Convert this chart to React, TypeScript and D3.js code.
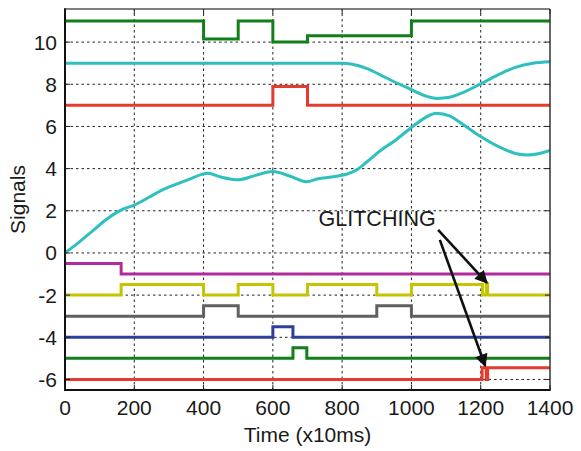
import React from "react";
import * as d3 from "d3";

// ---------- data ----------
const timeTicks = [0, 200, 400, 600, 800, 1000, 1200, 1400];
const signalTicks = [-6, -4, -2, 0, 2, 4, 6, 8, 10];

// digital signals: [time, level] change points (step-after)
const greenTop: [number, number][] = [[0, 11], [400, 10.15], [500, 11], [600, 10], [700, 10.3], [1000, 11], [1400, 11]];
const redTop: [number, number][] = [[0, 7], [600, 7.9], [700, 7], [1400, 7]];
const magenta: [number, number][] = [[0, -0.5], [162, -1], [1400, -1]];
const yellow: [number, number][] = [[0, -2], [162, -1.5], [400, -2], [500, -1.5], [600, -2], [700, -1.5], [900, -2], [1000, -1.5], [1205, -2], [1216, -1.45], [1220, -2], [1400, -2]];
const grey: [number, number][] = [[0, -3], [400, -2.5], [500, -3], [900, -2.5], [1000, -3], [1400, -3]];
const blue: [number, number][] = [[0, -4], [600, -3.5], [658, -4], [1400, -4]];
const greenLow: [number, number][] = [[0, -5], [658, -4.5], [698, -5], [1400, -5]];
const redLow: [number, number][] = [[0, -6], [1204, -5.45], [1216, -6], [1220, -5.45], [1400, -5.45]];

// analog signals
const cyanTop: [number, number][] = [[0, 9], [400, 9], [800, 9], [830, 8.95], [870, 8.75], [910, 8.45], [950, 8.12], [1000, 7.75], [1040, 7.45], [1075, 7.33], [1110, 7.38], [1150, 7.62], [1200, 8.02], [1250, 8.45], [1300, 8.8], [1350, 9.0], [1400, 9.07]];
const cyanLow: [number, number][] = [[0, 0], [40, 0.5], [80, 1.05], [120, 1.6], [160, 2.02], [200, 2.27], [240, 2.62], [280, 2.98], [320, 3.25], [360, 3.5], [400, 3.75], [412, 3.78], [450, 3.6], [500, 3.47], [550, 3.68], [600, 3.86], [650, 3.64], [698, 3.38], [730, 3.52], [770, 3.6], [810, 3.72], [840, 3.92], [870, 4.3], [910, 4.85], [950, 5.3], [1000, 5.95], [1040, 6.42], [1072, 6.63], [1110, 6.5], [1150, 6.08], [1200, 5.52], [1250, 5.05], [1300, 4.72], [1335, 4.65], [1370, 4.72], [1400, 4.86]];

// annotation: text position and arrows (tail -> tip) in data coords
const glitchLabel = "GLITCHING";
const glitchLabelPos: [number, number] = [732, 1.3];
const arrows: [number, number, number, number][] = [
  [1077, 1.1, 1218, -1.42],
  [1082, 0.62, 1213, -5.36],
];

const digitalSeries = [
  { data: greenTop, color: "#11801a" },
  { data: redTop, color: "#e53a2e" },
  { data: magenta, color: "#b02aa0" },
  { data: yellow, color: "#c4c400" },
  { data: grey, color: "#606060" },
  { data: blue, color: "#2d3f9c" },
  { data: greenLow, color: "#11801a" },
  { data: redLow, color: "#e53a2e" },
];
const analogSeries = [
  { data: cyanTop, color: "#2ebfbf" },
  { data: cyanLow, color: "#2ebfbf" },
];

export default function App() {
  const W = 581, H = 451;
  const m = { left: 65, right: 31, top: 9, bottom: 61 };
  const x = d3.scaleLinear().domain([0, 1400]).range([m.left, W - m.right]);
  const y = d3.scaleLinear().domain([-6.5, 11.57]).range([H - m.bottom, m.top]);
  const stepLine = d3.line<[number, number]>().x(d => x(d[0])).y(d => y(d[1])).curve(d3.curveStepAfter);
  const smoothLine = d3.line<[number, number]>().x(d => x(d[0])).y(d => y(d[1])).curve(d3.curveMonotoneX);
  const font = "'Liberation Sans', Arial, Helvetica, sans-serif";
  const x0 = m.left, x1 = W - m.right, y0 = H - m.bottom, y1 = m.top;

  return (
    <svg width={W} height={H} style={{ position: "absolute", left: 0, top: 0, background: "#fff" }} fontFamily={font}>
      <defs>
        <clipPath id="plot"><rect x={x0} y={y1} width={x1 - x0} height={y0 - y1} /></clipPath>
        <marker id="ah" viewBox="0 0 10 10" refX="9" refY="5" markerWidth="5.5" markerHeight="5" markerUnits="strokeWidth" orient="auto">
          <path d="M0,0 L10,5 L0,10 Z" fill="#111" />
        </marker>
      </defs>
      <rect x={0} y={0} width={W} height={H} fill="#fff" />
      {/* grid */}
      <g stroke="#222" strokeWidth={1} strokeDasharray="2.5,3">
        {timeTicks.filter(t => t > 0 && t < 1400).map(t => (
          <line key={"gx" + t} x1={x(t)} x2={x(t)} y1={y0} y2={y1} />
        ))}
        {signalTicks.map(v => (
          <line key={"gy" + v} x1={x0} x2={x1} y1={y(v)} y2={y(v)} />
        ))}
      </g>
      {/* signals */}
      <g clipPath="url(#plot)" fill="none" strokeWidth={3} strokeLinejoin="miter">
        {analogSeries.map((s, i) => (
          <path key={"a" + i} d={smoothLine(s.data) || ""} stroke={s.color} />
        ))}
        {digitalSeries.map((s, i) => (
          <path key={"d" + i} d={stepLine(s.data) || ""} stroke={s.color} />
        ))}
      </g>
      {/* box */}
      <line x1={x0} x2={x1} y1={y1} y2={y1} stroke="#555" strokeWidth={1.5} />
      <line x1={x1} x2={x1} y1={y1} y2={y0} stroke="#333" strokeWidth={1.5} />
      <line x1={x0} x2={x0} y1={y1 - 0.7} y2={y0 + 1} stroke="#111" strokeWidth={2} />
      <line x1={x0 - 1} x2={x1 + 0.7} y1={y0} y2={y0} stroke="#111" strokeWidth={2} />
      {/* ticks */}
      <g stroke="#222" strokeWidth={1}>
        {timeTicks.map(t => (
          <g key={"tx" + t}>
            <line x1={x(t)} x2={x(t)} y1={y0} y2={y0 - 5} />
            <line x1={x(t)} x2={x(t)} y1={y1} y2={y1 + 5} />
          </g>
        ))}
        {signalTicks.map(v => (
          <g key={"ty" + v}>
            <line x1={x0} x2={x0 + 5} y1={y(v)} y2={y(v)} />
            <line x1={x1} x2={x1 - 5} y1={y(v)} y2={y(v)} />
          </g>
        ))}
      </g>
      {/* tick labels */}
      <g fontSize={21} fill="#1a1a1a">
        {timeTicks.map(t => (
          <text key={"lx" + t} x={x(t)} y={y0 + 25} textAnchor="middle">{t}</text>
        ))}
        {signalTicks.map(v => (
          <text key={"ly" + v} x={x0 - 8} y={y(v) + 7.5} textAnchor="end">{v}</text>
        ))}
      </g>
      {/* axis titles */}
      <text x={(x0 + x1) / 2} y={442} textAnchor="middle" fontSize={21} fill="#1a1a1a">Time (x10ms)</text>
      <text transform={`translate(25,${(y0 + y1) / 2}) rotate(-90)`} textAnchor="middle" fontSize={21} fill="#1a1a1a">Signals</text>
      {/* annotation */}
      <text x={x(glitchLabelPos[0])} y={y(glitchLabelPos[1])} fontSize={21.5} fill="#1a1a1a">{glitchLabel}</text>
      <g stroke="#111" strokeWidth={2.6}>
        {arrows.map((a, i) => (
          <line key={"ar" + i} x1={x(a[0])} y1={y(a[1])} x2={x(a[2])} y2={y(a[3])} markerEnd="url(#ah)" />
        ))}
      </g>
    </svg>
  );
}
